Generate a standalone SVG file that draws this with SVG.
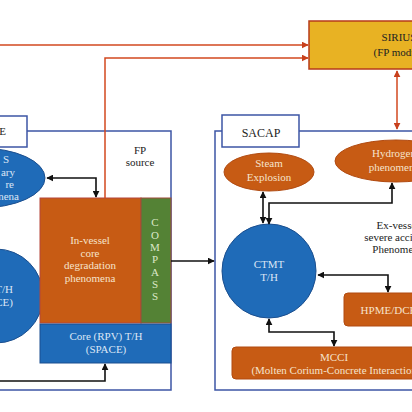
<svg xmlns="http://www.w3.org/2000/svg" width="412" height="412" viewBox="0 0 412 412">
<defs>
<style>
.t{font-family:"Liberation Serif","Times New Roman",serif;font-size:11px;text-anchor:middle}
.lt{fill:#F6E3CC}
.bt{fill:#DCE6F5}
.gt{fill:#DCE8C8}
.dk{fill:#222}
.blue{fill:#1F6BB8;stroke:#1B4F8F;stroke-width:1}
.org{fill:#C75B14;stroke:#B14A10;stroke-width:1}
.box{fill:none;stroke:#3C55A5;stroke-width:1.5}
.lbl{fill:#fff;stroke:#3C55A5;stroke-width:1.5}
.bk{fill:none;stroke:#111;stroke-width:1.6}
.or{fill:none;stroke:#D2481F;stroke-width:1.5}
</style>
<marker id="ab" viewBox="0 0 10 10" refX="9" refY="5" markerWidth="7" markerHeight="7" markerUnits="userSpaceOnUse" orient="auto-start-reverse"><path d="M0,0 L10,5 L0,10 Z" fill="#111"/></marker>
<marker id="ao" viewBox="0 0 10 10" refX="9" refY="5" markerWidth="7" markerHeight="7" markerUnits="userSpaceOnUse" orient="auto-start-reverse"><path d="M0,0 L10,5 L0,10 Z" fill="#C8401C"/></marker>
</defs>
<rect width="412" height="412" fill="#fff"/>

<g id="space-box">
<rect class="box" x="-50" y="131" width="221" height="259"/>
<rect class="lbl" x="-50" y="116" width="77" height="31"/>
<text class="t dk" x="6" y="135" style="text-anchor:end">E</text>
</g>

<g id="sacap-box">
<rect class="box" x="215" y="131" width="230" height="259"/>
<rect class="lbl" x="222" y="115" width="77" height="32"/>
<text class="t dk" x="261" y="137" style="font-size:12px">SACAP</text>
</g>

<g id="sirius">
<rect x="309" y="21" width="130" height="48" fill="#E8B223" stroke="#B73B1A" stroke-width="1.5"/>
<text class="t dk" x="399" y="41">SIRIUS</text>
<text class="t dk" x="401" y="56">(FP module)</text>
</g>

<g id="rcs-ellipse">
<ellipse class="blue" cx="-20" cy="178" rx="65" ry="30"/>
<text class="t bt" x="9" y="163" style="text-anchor:end">S</text>
<text class="t bt" x="15" y="176" style="text-anchor:end">ary</text>
<text class="t bt" x="14" y="188" style="text-anchor:end">re</text>
<text class="t bt" x="19" y="200" style="text-anchor:end">nena</text>
</g>

<g id="rcs-th">
<circle class="blue" cx="-4" cy="296" r="47"/>
<text class="t bt" x="13" y="293" style="text-anchor:end">T/H</text>
<text class="t bt" x="13" y="306" style="text-anchor:end">CE)</text>
</g>

<g id="fp-source">
<text class="t dk" x="140" y="154">FP</text>
<text class="t dk" x="140" y="166">source</text>
</g>

<g id="in-vessel">
<rect x="40" y="198" width="101" height="125" fill="#C75B14" stroke="#B5473A" stroke-width="1"/>
<text class="t lt" x="90" y="244">In-vessel</text>
<text class="t lt" x="90" y="257">core</text>
<text class="t lt" x="90" y="269">degradation</text>
<text class="t lt" x="90" y="282">phenomena</text>
</g>

<g id="compass">
<rect x="141" y="198" width="30" height="125" fill="#548235" stroke="#9E4A3A" stroke-width="1"/>
<text class="t gt" x="155" y="226">C</text>
<text class="t gt" x="155" y="239">O</text>
<text class="t gt" x="155" y="251">M</text>
<text class="t gt" x="155" y="263">P</text>
<text class="t gt" x="155" y="276">A</text>
<text class="t gt" x="155" y="288">S</text>
<text class="t gt" x="155" y="300">S</text>
</g>

<g id="core-rpv">
<rect x="40" y="324" width="131" height="39" fill="#1F6BB8" stroke="#1B4F8F" stroke-width="1"/>
<text class="t bt" x="106" y="340">Core (RPV) T/H</text>
<text class="t bt" x="106" y="353">(SPACE)</text>
</g>

<g id="steam">
<ellipse class="org" cx="269" cy="172" rx="45" ry="19"/>
<text class="t lt" x="269" y="167">Steam</text>
<text class="t lt" x="269" y="181">Explosion</text>
</g>

<g id="hydrogen">
<ellipse class="org" cx="396" cy="161" rx="61" ry="21"/>
<text class="t lt" x="394" y="157">Hydrogen</text>
<text class="t lt" x="394" y="171">phenomena</text>
</g>

<g id="ex-vessel">
<text class="t dk" x="398" y="229">Ex-vessel</text>
<text class="t dk" x="398" y="241">severe accident</text>
<text class="t dk" x="398" y="253">Phenomena</text>
</g>

<g id="ctmt">
<circle class="blue" cx="269" cy="271" r="47"/>
<text class="t bt" x="269" y="268">CTMT</text>
<text class="t bt" x="269" y="281">T/H</text>
</g>

<g id="hpme">
<rect class="org" x="344" y="293" width="90" height="33" rx="4"/>
<text class="t lt" x="389" y="314">HPME/DCH</text>
</g>

<g id="mcci">
<rect class="org" x="232" y="347" width="210" height="32" rx="4"/>
<text class="t lt" x="334" y="361">MCCI</text>
<text class="t lt" x="336" y="374">(Molten Corium-Concrete Interaction)</text>
</g>

<g id="connectors">
<path class="or" d="M0,45 H308" marker-end="url(#ao)"/>
<path class="or" d="M105,198 V58 H308" marker-end="url(#ao)"/>
<path class="or" d="M397,71 V129" marker-start="url(#ao)" marker-end="url(#ao)"/>
<path class="bk" d="M47,178 H96 V197" marker-start="url(#ab)" marker-end="url(#ab)"/>
<path class="bk" d="M171,261 H214" marker-end="url(#ab)"/>
<path class="bk" d="M0,381 H105 V364" marker-end="url(#ab)"/>
<path class="bk" d="M263,192 V223" marker-start="url(#ab)" marker-end="url(#ab)"/>
<path class="bk" d="M269,224 V203 H392 V183" marker-start="url(#ab)" marker-end="url(#ab)"/>
<path class="bk" d="M318,275 H388 V292" marker-start="url(#ab)" marker-end="url(#ab)"/>
<path class="bk" d="M269,319 V332 H334 V346" marker-start="url(#ab)" marker-end="url(#ab)"/>
</g>
</svg>
